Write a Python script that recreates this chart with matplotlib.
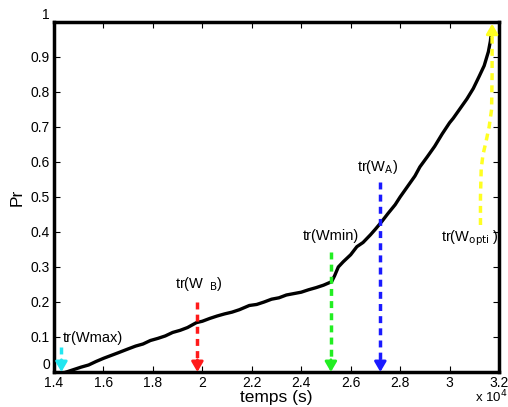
import matplotlib
matplotlib.use("Agg")
import matplotlib.pyplot as plt

plt.rcParams['font.family'] = ['Liberation Sans', 'DejaVu Sans']

# Data (x in units of 1e4 s)
t = [1.45, 1.48, 1.51, 1.54, 1.57, 1.60, 1.63, 1.66, 1.70, 1.73, 1.76, 1.79, 1.82,
     1.85, 1.88, 1.91, 1.94, 1.976, 2.00, 2.03, 2.06, 2.09, 2.12, 2.15, 2.19, 2.22,
     2.25, 2.28, 2.31, 2.34, 2.37, 2.40, 2.43, 2.46, 2.49, 2.523, 2.535, 2.55, 2.57,
     2.60, 2.625, 2.65, 2.68, 2.70, 2.726, 2.75, 2.78, 2.80, 2.83, 2.86, 2.88, 2.91,
     2.94, 2.97, 3.00, 3.015, 3.04, 3.07, 3.096, 3.12, 3.14, 3.157, 3.165, 3.168]
pr = [0.000, 0.007, 0.014, 0.020, 0.030, 0.039, 0.047, 0.055, 0.066, 0.074, 0.080, 0.090, 0.096,
      0.103, 0.113, 0.119, 0.127, 0.141, 0.145, 0.153, 0.160, 0.166, 0.171, 0.178, 0.190, 0.193,
      0.200, 0.208, 0.212, 0.220, 0.224, 0.228, 0.235, 0.241, 0.248, 0.258, 0.275, 0.300, 0.315,
      0.335, 0.358, 0.370, 0.392, 0.408, 0.430, 0.452, 0.478, 0.500, 0.530, 0.560, 0.586, 0.615,
      0.645, 0.680, 0.712, 0.725, 0.750, 0.780, 0.810, 0.845, 0.875, 0.915, 0.945, 0.963]

# Downward markers: x position, top of dashed line, colour
mark_x = [1.43, 1.98, 2.52, 2.72]
mark_top = [0.072, 0.20, 0.344, 0.544]
mark_colors = ['#22e6f0', '#ff1a1a', '#22ee22', '#1a1aff']

# Labels
label_text = ['tr(Wmax)', r'tr(W$_{\ \ \rm B}$)', 'tr(Wmin)', r'tr(W$_{\rm A}$)', r'tr(W$_{\rm opti}$ )']
label_x = [1.436, 1.985, 2.52, 2.71, 3.083]
label_y = [0.097, 0.25, 0.389, 0.585, 0.383]
label_ha = ['left', 'center', 'center', 'center', 'center']

# Yellow path (tr(W_opti))
opti_x = [3.125, 3.125, 3.128, 3.135, 3.148, 3.160, 3.170, 3.172, 3.172]
opti_y = [0.42, 0.50, 0.58, 0.62, 0.66, 0.70, 0.75, 0.85, 0.96]

fig = plt.figure(figsize=(5.08, 4.07), dpi=100)
ax = fig.add_axes([0.1063, 0.086, 0.8760, 0.860])

ax.plot(t, pr, color='black', lw=2.4, zorder=3)

for x, top, c in zip(mark_x, mark_top, mark_colors):
    ax.plot([x, x], [top, 0.03], color=c, lw=2.5, ls=(0, (2, 1.5)), zorder=4)
    ax.annotate('', xy=(x, 0.0), xytext=(x, 0.035),
                arrowprops=dict(arrowstyle='-|>,head_length=0.6,head_width=0.35',
                                color=c, lw=2, shrinkA=0, shrinkB=0), zorder=5)

for s, x, y, ha in zip(label_text, label_x, label_y, label_ha):
    ax.text(x, y, s, fontsize=10.5, ha=ha, va='center')

ax.plot(opti_x, opti_y, color='#ffff22', lw=2.5, ls=(0, (2, 1.5)), zorder=4)
ax.annotate('', xy=(3.172, 0.995), xytext=(3.172, 0.955),
            arrowprops=dict(arrowstyle='-|>,head_length=0.6,head_width=0.35',
                            color='#ffff22', lw=2, shrinkA=0, shrinkB=0), zorder=5)

ax.set_xlim(1.4, 3.2)
ax.set_ylim(0, 1)
ax.set_xticks([1.4, 1.6, 1.8, 2.0, 2.2, 2.4, 2.6, 2.8, 3.0, 3.2])
ax.set_xticklabels(['1.4', '1.6', '1.8', '2', '2.2', '2.4', '2.6', '2.8', '3', '3.2'])
ax.set_yticks([0, 0.1, 0.2, 0.3, 0.4, 0.5, 0.6, 0.7, 0.8, 0.9, 1])
ax.set_yticklabels(['0', '0.1', '0.2', '0.3', '0.4', '0.5', '0.6', '0.7', '0.8', '0.9', '1'])
ax.tick_params(direction='in', top=True, right=True, length=4, width=0.8, labelsize=10, pad=3)
ax.get_yticklabels()[0].set_va('bottom')
ax.get_yticklabels()[-1].set_va('bottom')
for s in ax.spines.values():
    s.set_linewidth(2.5)

ax.set_xlabel('temps (s)', fontsize=12.5, labelpad=0)
ax.set_ylabel('Pr', fontsize=12.5, labelpad=4)
fig.text(0.935, 0.003, r'x 10$^4$', fontsize=9.5, ha='left', va='bottom')

fig.savefig('out.png', dpi=100)
